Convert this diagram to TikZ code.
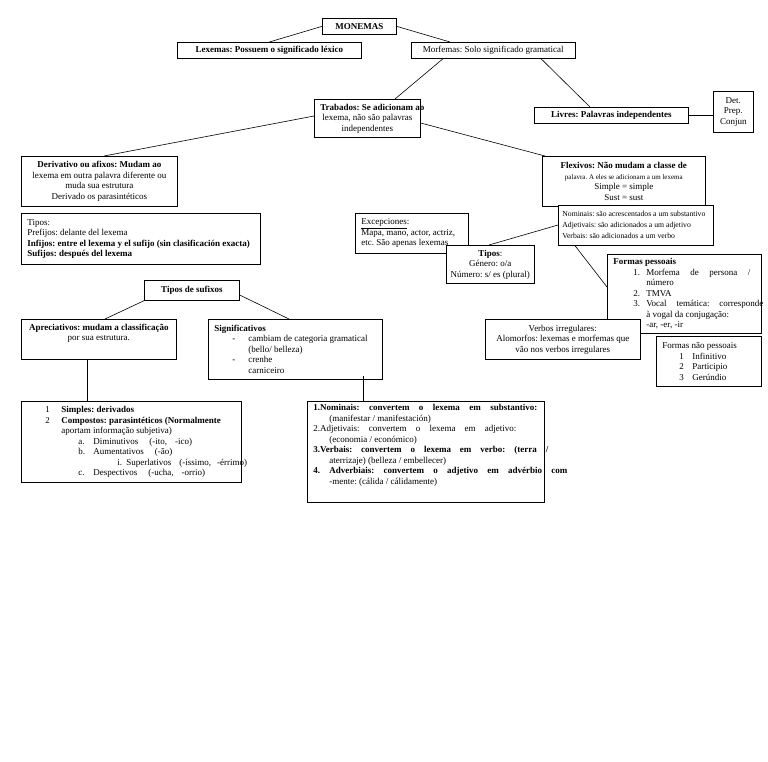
\documentclass[tikz,border=0pt]{standalone}
\usepackage{fontspec}
\setmainfont{Liberation Serif}
\newcommand{\jl}[2]{\makebox[#1][s]{\spaceskip=0pt\relax #2}}

\begin{document}
\frenchspacing
\begin{tikzpicture}[x = 1pt, y = -1pt, line width = 0.6pt,
                        box/.style = {draw, fill = white, line width = 0.7pt, anchor = north west,
                                      inner xsep = 6pt, inner ysep = 1pt, align = flush center,
                                      font = \fontsize{9}{10.5}\selectfont},
                        lbox/.style = {box, align = flush left},
                        sz/.style 2 args = {minimum width = #1pt, minimum height = #2pt, text width = #1pt-12pt}]
      \useasboundingbox (0, 0) rectangle (768, 761);
      \fill [white] (0, 0) rectangle (768, 761);
      % first levels
      \node [box, sz = {74}{16}, font = \fontsize{9}{10.5}\selectfont\bfseries] (mon) at (322, 18) {MONEMAS};
      \node [box, sz = {184}{16}] (lex) at (177, 42) {\textbf{Lexemas: Possuem o significado léxico}};
      \node [box, sz = {164}{16}] (morf) at (411, 42) {Morfemas: Solo significado gramatical};
      \node [box, sz = {106}{38}] (trab) at (314, 99) {\mbox{\textbf{Trabados: Se adicionam ao}}\\ lexema, não são palavras\\ independentes};
      \node [box, sz = {154}{16}] (livr) at (534, 107) {\textbf{Livres: Palavras independentes}};
      \node [box, sz = {40}{41}, inner xsep = 2pt, text width = 36pt] (det) at (713, 91) {Det.\\ Prep.\\ Conjun};
      % derivativo / flexivo
      \node [box, sz = {156}{50}] (deriv) at (21, 156) {\textbf{Derivativo ou afixos: Mudam ao}\\ lexema em outra palavra diferente ou\\ muda sua estrutura\\ Derivado os parasintéticos};
      \node [box, sz = {163}{50}] (flex) at (542, 156) {\textbf{Flexivos: Não mudam a classe de}\\ {\fontsize{7}{7}\selectfont palavra. A eles se adicionam a um lexema}\\ Simple = simple\\ Sust = sust};
      \node [lbox, sz = {239}{51}] (tipl) at (21, 213) {Tipos:\\ Prefijos: delante del lexema\\ \textbf{Infijos: entre el lexema y el sufijo (sin clasificación exacta)}\\ \textbf{Sufijos: después del lexema}};
      \node [lbox, sz = {113}{40}] (exc) at (355, 213) {\underline{Excepciones}:\\ Mapa, mano, actor, actriz,\\ etc. São apenas lexemas};
      \node [lbox, sz = {155}{40}, inner xsep = 4pt, text width = 147pt, font = \fontsize{7.7}{11}\selectfont] (nom) at (558, 205)
          {\mbox{Nominais: são acrescentados a um substantivo}\\ Adjetivais: são adicionados a um adjetivo\\ Verbais: são adicionados a um verbo};
      \node [box, sz = {88}{38}, inner xsep = 2pt, text width = 84pt] (tipm) at (446, 245) {\textbf{Tipos}:\\ Género: o/a\\ Número: s/ es (plural)};
      \node [lbox, sz = {154}{79}] (fp) at (607, 254) {\textbf{Formas pessoais}\\
          \hspace*{20pt}\makebox[13pt][l]{1.}\jl{104pt}{Morfema de persona /}\\
          \hspace*{33pt}número\\
          \hspace*{20pt}\makebox[13pt][l]{2.}TMVA\\
          \hspace*{20pt}\makebox[13pt][l]{3.}\jl{117pt}{Vocal temática: corresponde}\\
          \hspace*{33pt}à vogal da conjugação:\\
          \hspace*{33pt}-ar, -er, -ir};
      \node [lbox, sz = {105}{50}] (fnp) at (656, 336) {Formas não pessoais\\
          \hspace*{17pt}\makebox[13pt][l]{1}Infinitivo\\
          \hspace*{17pt}\makebox[13pt][l]{2}Participio\\
          \hspace*{17pt}\makebox[13pt][l]{3}Gerúndio};
      \node [box, sz = {155}{40}] (verb) at (485, 319) {Verbos irregulares:\\ Alomorfos: lexemas e morfemas que\\ vão nos verbos irregulares};
      % sufixos
      \node [box, sz = {95}{20}] (tsuf) at (144, 280) {\textbf{Tipos de sufixos}};
      \node [box, sz = {155}{40}] (apre) at (21, 319) {\textbf{Apreciativos: mudam a classificação}\\ por sua estrutura.\\ \rule{0pt}{11pt}};
      \node [lbox, sz = {174}{60}] (sig) at (208, 319) {\textbf{Significativos}\\
          \hspace*{18pt}\makebox[16pt][l]{-}cambiam de categoria gramatical\\
          \hspace*{34pt}(bello/ belleza)\\
          \hspace*{18pt}\makebox[16pt][l]{-}crenhe\\
          \hspace*{34pt}carniceiro};
      \node [lbox, sz = {220}{81}] (bl) at (21, 401) {\hspace*{18pt}\makebox[16pt][l]{1}\textbf{Simples: derivados}\\
          \hspace*{18pt}\makebox[16pt][l]{2}\mbox{\textbf{Compostos: parasintéticos (Normalmente}}\\
          \hspace*{34pt}aportam informação subjetiva)\\
          \hspace*{51pt}\makebox[15pt][l]{a.}\mbox{Diminutivos\hspace{11pt}(-ito,\hspace{8pt}-ico)}\\
          \hspace*{51pt}\makebox[15pt][l]{b.}\mbox{Aumentativos\hspace{11pt}(-ão)}\\
          \hspace*{90pt}\makebox[9pt][l]{i.}\mbox{Superlativos\hspace{8pt}(-íssimo,\hspace{6pt}-érrimo)}\\
          \hspace*{51pt}\makebox[15pt][l]{c.}\mbox{Despectivos\hspace{11pt}(-ucha,\hspace{8pt}-orrio)}};
      \node [lbox, sz = {237}{101}] (bm) at (307, 401) {\jl{224pt}{\textbf{1.Nominais: convertem o lexema em substantivo:}}\\
          \hspace*{16pt}(manifestar / manifestación)\\
          \jl{203pt}{2.Adjetivais: convertem o lexema em adjetivo:}\\
          \hspace*{16pt}(economia / económico)\\
          \jl{235pt}{\textbf{3.Verbais: convertem o lexema em verbo: (terra /}}\\
          \hspace*{16pt}aterrizaje) (belleza / embellecer)\\
          \makebox[16pt][l]{\textbf{4.}}\jl{238pt}{\textbf{Adverbiais: convertem o adjetivo em advérbio com}}\\
          \hspace*{16pt}-mente: (cálida / cálidamente)\\ \rule{0pt}{12pt}};
      % connectors
      \draw (mon.west) -- (lex.north);
      \draw (mon.east) -- ([xshift = 39pt]morf.north west);
      \draw ([xshift = 32pt]morf.south west) -- ([xshift = 81pt]trab.north west);
      \draw ([xshift = 130pt]morf.south west) -- ([xshift = 56pt]livr.north west);
      \draw (livr.east) -- (livr.east -| det.west);
      \draw ([yshift = -17pt]trab.north west) -- ([xshift = 83pt]deriv.north west);
      \draw ([yshift = -24pt]trab.north east) -- ([xshift = 3pt]flex.north west);
      \draw ([yshift = -20pt]nom.north west) -- ([xshift = 43pt]tipm.north west);
      \draw ([xshift = 17pt]nom.south west) -- ([yshift = -33pt]fp.north west);
      \draw (tsuf.south west) -- ([xshift = 84pt]apre.north west);
      \draw ([yshift = -15pt]tsuf.north east) -- ([xshift = 81pt]sig.north west);
      \draw ([xshift = 66pt]apre.south west) -- ([xshift = 66pt]bl.north west);
      \draw ([xshift = 155pt, yshift = 4pt]sig.south west) -- ([xshift = 56pt]bm.north west);
    \end{tikzpicture}
\end{document}
